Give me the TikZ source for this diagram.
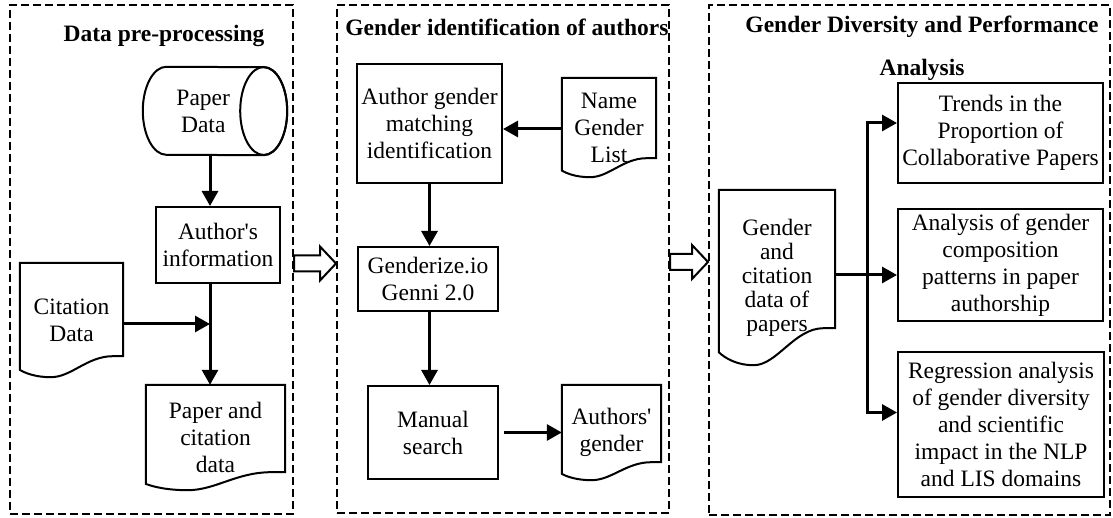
\documentclass[tikz,border=0pt]{standalone}
\usepackage{fontspec}
\setmainfont{Liberation Serif}
\usepackage{tikz}
\usetikzlibrary{arrows.meta, calc, positioning}

\newcommand{\diafont}{\fontsize{23.5}{27}\selectfont}

% document symbol with a wavy bottom edge
\newcommand{\wavedoc}[2][18]{%
    \draw[boxline] (#2.north west) -- (#2.north east) -- ($(#2.south east)+(0,#1)$)
        -- ($(#2.south west)!0.9!(#2.south east)+(0,#1)$)
        .. controls ($(#2.south west)!0.65!(#2.south east)+(0,#1)$) and ($(#2.south west)!0.5!(#2.south east)$)
        .. ($(#2.south west)!0.3!(#2.south east)$)
        .. controls ($(#2.south west)!0.15!(#2.south east)$) and ($(#2.south west)!0.05!(#2.south east)+(0,0.2*#1)$)
        .. ($(#2.south west)+(0,0.35*#1)$) -- cycle;}

% lying drum (storage) around a node, cap ellipse on the right
\newcommand{\drumshape}[1]{%
    \draw[boxline] ([xshift=23.5pt]#1.north west) arc[start angle=90, end angle=270, x radius=23.5pt, y radius=44pt]
        -- (#1.south east) arc[start angle=-90, end angle=90, x radius=23.5pt, y radius=44pt] -- cycle;
    \draw[boxline] (#1.east) ellipse[x radius=23.5pt, y radius=44pt];}

% hollow block arrow from #1 to #2 (same height)
\newcommand{\blockarrow}[2]{%
    \draw[boxline, fill=white] let \p1=(#1), \p2=(#2) in
        (\x1,\y1+8pt) -- (\x2-16pt,\y1+8pt) -- (\x2-16pt,\y1+17pt) -- (\x2,\y1)
        -- (\x2-16pt,\y1-17pt) -- (\x2-16pt,\y1-8pt) -- (\x1,\y1-8pt) -- cycle;}

\begin{document}
\begin{tikzpicture}[x=1pt, y=1pt,
    boxline/.style={line width=2pt},
    box/.style={draw, boxline, align=center, inner sep=2pt, font=\diafont},
    doc/.style={align=center, inner sep=2pt, font=\diafont},
    panel/.style={draw, line width=2pt, dash pattern=on 8pt off 4pt},
    title/.style={font=\diafont\bfseries, anchor=base},
    flow/.style={line width=3pt, -{Triangle[length=15pt, width=16pt]}}]
    \useasboundingbox (0,0) rectangle (1113,518);

    % Panels
    \node[panel, minimum width=283pt, minimum height=509pt] (prepbox) at (151.5,258.5) {};
    \node[panel, minimum width=332pt, minimum height=508pt] (identbox) at (503,259) {};
    \node[panel, minimum width=401pt, minimum height=510pt] (analbox) at (909.5,258) {};

    \node[title] (prephead) at (164,476) {Data pre-processing};
    \node[title] (identhead) at (507,482) {Gender identification of authors};
    \node[title] (analhead) at (922,485) {Gender Diversity and Performance};
    \node[title] (analhead2) at (922,442) {Analysis};

    % Data pre-processing
    \node[doc, minimum width=120.5pt, minimum height=88pt] (paper) at (203.25,407) {Paper\\Data};
    \drumshape{paper}
    \node[box, minimum width=124pt, minimum height=76pt] (info) at (218,273) {Author\textquotesingle s\\information};
    \node[doc, minimum width=103pt, minimum height=114pt] (cit) at (71.5,198) {Citation\\Data};
    \node[doc, minimum width=139pt, minimum height=105pt] (papercit) at (215.5,80.5) {Paper and\\citation\\data};
    \wavedoc[21]{cit}
    \wavedoc[18]{papercit}
    \coordinate (jn) at (210,194);

    \draw[flow] (paper.south -| jn) -- (info.north -| jn);
    \draw[flow] (cit.east |- jn) -- (jn);
    \draw[flow] (info.south -| jn) -- (papercit.north -| jn);

    % Gender identification
    \node[box, minimum width=145pt, minimum height=119pt] (match) at (429.5,394.5) {Author gender\\matching\\identification};
    \node[doc, minimum width=94pt, minimum height=99pt] (namelist) at (609,390.5) {Name\\Gender\\List};
    \node[box, minimum width=140pt, minimum height=64pt] (genderize) at (428,239) {Genderize.io\\Genni 2.0};
    \node[box, minimum width=130pt, minimum height=93pt] (manual) at (433,85.5) {Manual\\search};
    \node[doc, minimum width=99pt, minimum height=95pt] (authgender) at (611.5,85.5) {Authors\textquotesingle\\gender};
    \wavedoc[19]{namelist}
    \wavedoc[18]{authgender}

    \draw[flow] ([yshift=-1.5pt]namelist.west) -- ([yshift=-1.5pt]namelist.west -| match.east);
    \draw[flow] (match.south) -- (genderize.north -| match.south);
    \draw[flow] (genderize.south -| match.south) -- (manual.north -| match.south);
    \draw[flow, shorten <=5pt] (manual.east) -- (manual.east -| authgender.west);

    % Diversity and performance analysis
    \node[doc, minimum width=116pt, minimum height=175pt, font=\fontsize{23.5}{24}\selectfont] (gcd) at (777,240.5) {Gender\\and\\citation\\data of\\papers};
    \node[box, minimum width=205pt, minimum height=100pt] (trends) at (1000.5,385) {Trends in the\\Proportion of\\Collaborative Papers};
    \node[box, minimum width=205pt, minimum height=112pt] (compo) at (1000.5,253) {Analysis of gender\\composition\\patterns in paper\\authorship};
    \node[box, minimum width=206pt, minimum height=145pt] (regress) at (1001,93.5) {Regression analysis\\of gender diversity\\and scientific\\impact in the NLP\\and LIS domains};
    \wavedoc[37]{gcd}
    \coordinate (branch) at (867,243);

    \draw[flow] ([yshift=2.5pt]gcd.east) -- ([yshift=2.5pt]gcd.east -| compo.west);
    \draw[flow] (branch) |- ([yshift=10pt]trends.west);
    \draw[flow] (branch) |- ([yshift=12pt]regress.west);

    % Transfer between panels
    \coordinate (pass1) at ($(prepbox.east)+(0,-4)$);
    \coordinate (pass2) at ($(identbox.east)+(0,-3)$);
    \blockarrow{pass1}{pass1 -| identbox.west}
    \blockarrow{pass2}{pass2 -| analbox.west}
\end{tikzpicture}
\end{document}
